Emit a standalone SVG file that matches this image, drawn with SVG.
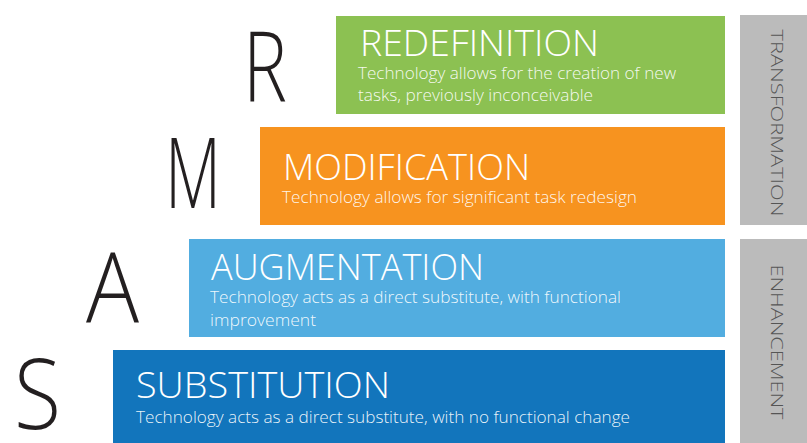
<svg xmlns="http://www.w3.org/2000/svg" width="807" height="443" viewBox="0 0 807 443">
<style>
.big{font-family:"Open Sans","Lato","Liberation Sans",sans-serif;font-weight:300;font-size:98px;fill:#231f20}
.hd{font-family:"Open Sans","Lato","Liberation Sans",sans-serif;font-weight:300;font-size:37px;fill:#ffffff}
.sub{font-family:"Open Sans","Lato","Liberation Sans",sans-serif;font-weight:300;font-size:17px;fill:#ffffff;fill-opacity:0.92}
.side{font-family:"Open Sans","Lato","Liberation Sans",sans-serif;font-weight:300;font-size:17px;fill:#555555}
.gray{fill:#bbbbbb}
</style>
<rect width="807" height="443" fill="#ffffff"/>
<g id="redefinition">
<rect x="336" y="16" width="389" height="98" fill="#8cc152"/>
<text class="big" x="243" y="101" textLength="44" lengthAdjust="spacingAndGlyphs">R</text>
<text class="hd" x="360" y="56" textLength="239" lengthAdjust="spacingAndGlyphs">REDEFINITION</text>
<text class="sub" x="358" y="79" textLength="318" lengthAdjust="spacingAndGlyphs">Technology allows for the creation of new</text>
<text class="sub" x="358" y="101" textLength="235" lengthAdjust="spacingAndGlyphs">tasks, previously inconceivable</text>
</g>
<g id="modification">
<rect x="260" y="127" width="465" height="98" fill="#f7931f"/>
<text class="big" x="165" y="208" textLength="56" lengthAdjust="spacingAndGlyphs">M</text>
<text class="hd" x="283" y="180" textLength="247" lengthAdjust="spacingAndGlyphs">MODIFICATION</text>
<text class="sub" x="282" y="203" textLength="355" lengthAdjust="spacingAndGlyphs">Technology allows for significant task redesign</text>
</g>
<g id="augmentation">
<rect x="189" y="239" width="536" height="98" fill="#52ade0"/>
<text class="big" x="86" y="323" textLength="53" lengthAdjust="spacingAndGlyphs">A</text>
<text class="hd" x="211" y="280" textLength="273" lengthAdjust="spacingAndGlyphs">AUGMENTATION</text>
<text class="sub" x="210" y="303" textLength="411" lengthAdjust="spacingAndGlyphs">Technology acts as a direct substitute, with functional</text>
<text class="sub" x="210" y="326" textLength="106" lengthAdjust="spacingAndGlyphs">improvement</text>
</g>
<g id="substitution">
<rect x="113" y="350" width="612" height="93" fill="#1275bc"/>
<text class="big" x="14" y="429" textLength="47" lengthAdjust="spacingAndGlyphs">S</text>
<text class="hd" x="136" y="398" textLength="254" lengthAdjust="spacingAndGlyphs">SUBSTITUTION</text>
<text class="sub" x="136" y="423" textLength="494" lengthAdjust="spacingAndGlyphs">Technology acts as a direct substitute, with no functional change</text>
</g>
<g id="transformation">
<rect class="gray" x="740" y="15" width="67" height="210"/>
<text class="side" x="771" y="123" text-anchor="middle" transform="rotate(90 771 123)" textLength="187" lengthAdjust="spacingAndGlyphs">TRANSFORMATION</text>
</g>
<g id="enhancement">
<rect class="gray" x="740" y="239" width="67" height="204"/>
<text class="side" x="771" y="342" text-anchor="middle" transform="rotate(90 771 342)" textLength="155" lengthAdjust="spacingAndGlyphs">ENHANCEMENT</text>
</g>
<g id="connectors"></g>
</svg>
